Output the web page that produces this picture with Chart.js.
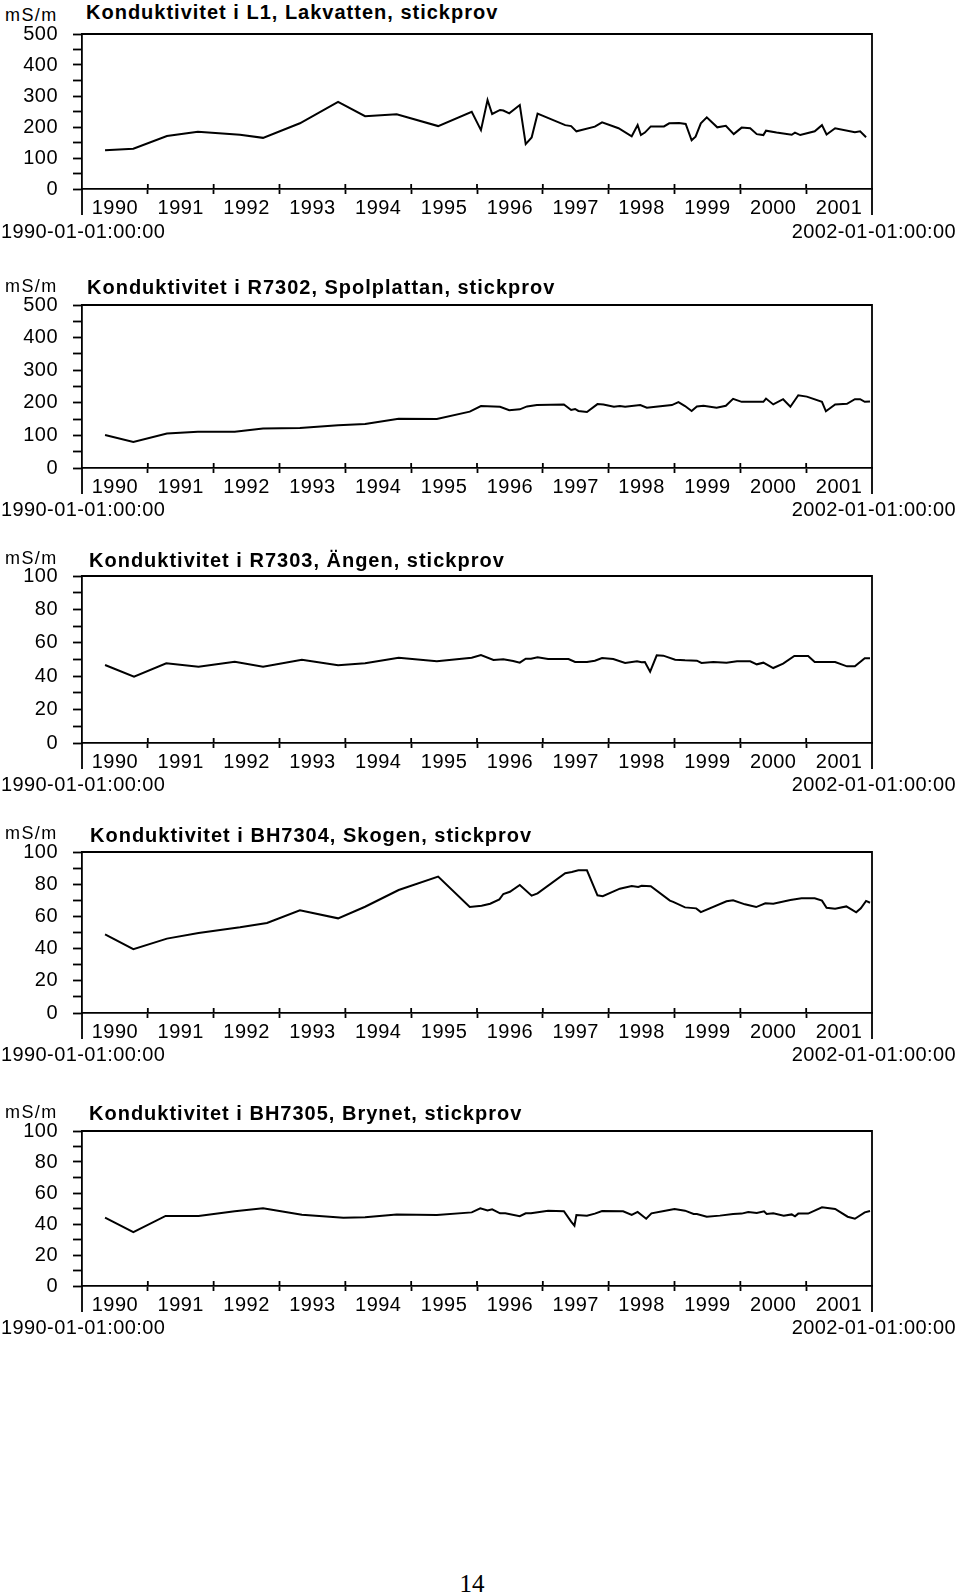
<!DOCTYPE html>
<html>
<head>
<meta charset="utf-8">
<script src="https://cdn.jsdelivr.net/npm/chart.js@4.4.1/dist/chart.umd.min.js"></script>
<style>
  html, body { margin: 0; padding: 0; background: #fff; overflow: hidden; }
  #page { position: relative; width: 960px; height: 1593px; font-family: "Liberation Sans", Arial, sans-serif; color: #000; }
  .unit { position: absolute; left: 5px; font-size: 18px; line-height: 18px; letter-spacing: 1.4px; }
  .title { position: absolute; font-size: 20px; line-height: 20px; font-weight: bold; letter-spacing: 1px; white-space: nowrap; }
  .date { position: absolute; font-size: 20px; line-height: 20px; letter-spacing: 0.4px; white-space: nowrap; }
  .start { left: 1px; }
  .end { right: 4px; }
  canvas { position: absolute; left: 0; }
  #pagenr { position: absolute; left: 0; width: 944px; top: 1571px; text-align: center; font-family: "Liberation Serif", serif; font-size: 25px; line-height: 25px; }
</style>
</head>
<body>
<div id="page">
  <div class="unit" style="top:6px">mS/m</div>
  <div class="title" style="left:86px;top:2px">Konduktivitet i L1, Lakvatten, stickprov</div>
  <canvas id="c1" width="960" height="209" style="top:20px"></canvas>
  <div class="date start" style="top:221px">1990-01-01:00:00</div>
  <div class="date end" style="top:221px">2002-01-01:00:00</div>

  <div class="unit" style="top:277px">mS/m</div>
  <div class="title" style="left:87px;top:277px">Konduktivitet i R7302, Spolplattan, stickprov</div>
  <canvas id="c2" width="960" height="217" style="top:291px"></canvas>
  <div class="date start" style="top:499px">1990-01-01:00:00</div>
  <div class="date end" style="top:499px">2002-01-01:00:00</div>

  <div class="unit" style="top:549px">mS/m</div>
  <div class="title" style="left:89px;top:550px">Konduktivitet i R7303, Ängen, stickprov</div>
  <canvas id="c3" width="960" height="221" style="top:562px"></canvas>
  <div class="date start" style="top:774px">1990-01-01:00:00</div>
  <div class="date end" style="top:774px">2002-01-01:00:00</div>

  <div class="unit" style="top:824px">mS/m</div>
  <div class="title" style="left:90px;top:825px">Konduktivitet i BH7304, Skogen, stickprov</div>
  <canvas id="c4" width="960" height="215" style="top:838px"></canvas>
  <div class="date start" style="top:1044px">1990-01-01:00:00</div>
  <div class="date end" style="top:1044px">2002-01-01:00:00</div>

  <div class="unit" style="top:1103px">mS/m</div>
  <div class="title" style="left:89px;top:1103px">Konduktivitet i BH7305, Brynet, stickprov</div>
  <canvas id="c5" width="960" height="209" style="top:1117px"></canvas>
  <div class="date start" style="top:1317px">1990-01-01:00:00</div>
  <div class="date end" style="top:1317px">2002-01-01:00:00</div>

  <div id="pagenr">14</div>
</div>
<script>
// År (etiketter mitt på varje år)
const years = ["1990", "1991", "1992", "1993", "1994", "1995", "1996", "1997", "1998", "1999", "2000", "2001"];
const yLabels500 = [0, 100, 200, 300, 400, 500];
const yLabels100 = [0, 20, 40, 60, 80, 100];

// L1, Lakvatten
const l1Dates = [1990.35, 1990.78, 1991.29, 1991.76, 1992.40, 1992.75, 1993.31, 1993.89, 1994.30, 1994.78,
  1995.41, 1995.92, 1996.06, 1996.16, 1996.23, 1996.35, 1996.40, 1996.49, 1996.65, 1996.74,
  1996.83, 1996.92, 1997.34, 1997.43, 1997.51, 1997.79, 1997.90, 1998.15, 1998.35, 1998.44,
  1998.49, 1998.55, 1998.64, 1998.84, 1998.92, 1999.07, 1999.17, 1999.26, 1999.32, 1999.40,
  1999.49, 1999.65, 1999.78, 1999.90, 2000.02, 2000.15, 2000.25, 2000.35, 2000.39, 2000.55,
  2000.78, 2000.83, 2000.91, 2001.13, 2001.24, 2001.31, 2001.44, 2001.74, 2001.82, 2001.91];
const l1Values = [125, 130, 171, 185, 175, 165, 212, 281, 235, 241,
  203, 249, 190, 287, 242, 255, 253, 244, 271, 145,
  166, 243, 206, 203, 186, 201, 215, 196, 170, 206,
  174, 182, 202, 202, 212, 213, 210, 157, 169, 212,
  231, 199, 204, 177, 198, 196, 177, 174, 188, 182,
  175, 182, 174, 186, 206, 176, 196, 183, 186, 167];

// R7302, Spolplattan
const r7302Dates = [1990.35, 1990.78, 1991.29, 1991.76, 1992.32, 1992.75, 1993.31, 1993.89, 1994.30, 1994.81,
  1995.39, 1995.89, 1996.06, 1996.35, 1996.49, 1996.65, 1996.76, 1996.91, 1997.32, 1997.43,
  1997.49, 1997.54, 1997.67, 1997.83, 1997.92, 1998.08, 1998.17, 1998.25, 1998.48, 1998.58,
  1998.68, 1998.96, 1999.06, 1999.16, 1999.26, 1999.34, 1999.44, 1999.64, 1999.78, 1999.89,
  2000.02, 2000.35, 2000.39, 2000.50, 2000.65, 2000.76, 2000.88, 2001.01, 2001.24, 2001.30,
  2001.44, 2001.62, 2001.74, 2001.82, 2001.89, 2001.97];
const r7302Values = [101, 80, 106, 111, 111, 121, 123, 131, 135, 151,
  150, 173, 190, 188, 177, 180, 189, 193, 195, 178,
  181, 175, 172, 196, 195, 188, 190, 188, 193, 185,
  187, 193, 202, 190, 175, 189, 191, 185, 191, 212,
  203, 203, 213, 195, 211, 188, 223, 219, 203, 174,
  195, 197, 211, 211, 203, 204];

// R7303, Ängen
const r7303Dates = [1990.35, 1990.79, 1991.28, 1991.77, 1992.32, 1992.75, 1993.34, 1993.89, 1994.30, 1994.81,
  1995.39, 1995.92, 1996.06, 1996.25, 1996.40, 1996.55, 1996.65, 1996.74, 1996.82, 1996.92,
  1997.08, 1997.39, 1997.49, 1997.67, 1997.79, 1997.90, 1998.07, 1998.25, 1998.43, 1998.50,
  1998.55, 1998.63, 1998.73, 1998.83, 1999.01, 1999.16, 1999.34, 1999.41, 1999.59, 1999.79,
  1999.95, 2000.15, 2000.25, 2000.35, 2000.50, 2000.65, 2000.82, 2001.03, 2001.13, 2001.44,
  2001.62, 2001.74, 2001.89, 2001.97];
const r7303Values = [46.7, 39.7, 47.7, 45.7, 48.7, 45.7, 49.9, 46.5, 47.7, 51,
  48.9, 51, 52.7, 49.7, 50.1, 49.1, 48.1, 50.5, 50.5, 51.3,
  50.3, 50.3, 48.5, 48.5, 49.3, 50.9, 50.3, 47.9, 48.9, 48.3,
  48.5, 42.7, 52.5, 52.3, 49.9, 49.5, 49.3, 47.9, 48.5, 48.1,
  48.9, 48.9, 47.1, 48.1, 44.9, 47.5, 52.1, 52.1, 48.5, 48.5,
  45.9, 45.9, 50.7, 50.7];

// BH7304, Skogen
const bh7304Dates = [1990.35, 1990.78, 1991.29, 1991.77, 1992.40, 1992.81, 1993.31, 1993.89, 1994.30, 1994.81,
  1995.41, 1995.89, 1996.07, 1996.20, 1996.34, 1996.40, 1996.50, 1996.65, 1996.83, 1996.92,
  1997.34, 1997.44, 1997.54, 1997.67, 1997.83, 1997.91, 1998.17, 1998.35, 1998.45, 1998.50,
  1998.64, 1998.93, 1998.98, 1999.16, 1999.33, 1999.40, 1999.79, 1999.89, 2000.07, 2000.24,
  2000.38, 2000.50, 2000.76, 2000.93, 2001.13, 2001.24, 2001.31, 2001.44, 2001.61, 2001.76,
  2001.83, 2001.91, 2001.97];
const bh7304Values = [48.9, 39.7, 46.2, 49.7, 53.2, 55.9, 63.8, 58.8, 66, 76.4,
  84.7, 65.8, 66.6, 67.9, 70.6, 73.9, 75.3, 79.5, 72.9, 74.3,
  86.8, 87.6, 88.6, 88.6, 73.1, 72.5, 77.2, 78.9, 78.3, 79,
  78.7, 69.8, 69, 65.6, 65, 62.7, 69.4, 70, 67.5, 65.8,
  68.1, 67.9, 70.2, 71.2, 71.2, 69.8, 65.4, 64.8, 66.2, 62.5,
  65, 69.6, 68.5];

// BH7305, Brynet
const bh7305Dates = [1990.35, 1990.78, 1991.27, 1991.77, 1992.32, 1992.75, 1993.34, 1993.97, 1994.30, 1994.78,
  1995.39, 1995.92, 1996.05, 1996.16, 1996.23, 1996.35, 1996.43, 1996.65, 1996.74, 1996.82,
  1997.08, 1997.32, 1997.43, 1997.48, 1997.51, 1997.67, 1997.79, 1997.90, 1998.22, 1998.35,
  1998.44, 1998.57, 1998.65, 1998.84, 1999.00, 1999.16, 1999.29, 1999.34, 1999.49, 1999.69,
  1999.89, 2000.02, 2000.12, 2000.25, 2000.36, 2000.40, 2000.50, 2000.66, 2000.78, 2000.83,
  2000.88, 2001.03, 2001.24, 2001.44, 2001.63, 2001.74, 2001.89, 2001.97];
const bh7305Values = [44.1, 34.8, 45.2, 45.2, 48.2, 50.1, 46, 44.1, 44.3, 46.2,
  45.8, 47.5, 50.1, 48.7, 49.5, 46.9, 46.9, 45, 46.9, 46.9,
  48.6, 48.2, 41.5, 38.9, 45.8, 45.4, 46.7, 48.4, 48.2, 45.8,
  47.8, 43.4, 46.9, 48.4, 49.7, 48.6, 46.5, 46.5, 44.7, 45.4,
  46.5, 46.7, 47.8, 47.1, 48.2, 46.5, 46.9, 45.4, 46.2, 45,
  46.7, 46.7, 50.8, 49.7, 44.7, 43.4, 47.5, 48.4];

Chart.defaults.font.family = '"Liberation Sans", Arial, sans-serif';
Chart.defaults.font.size = 20;
Chart.defaults.color = "#000";

const isYearMark = v => Number.isInteger(v) && v > 1990 && v < 2002;

// ram runt diagrammet + streck inåt på x-axeln
const frame = {
  id: "frame",
  beforeDraw(chart) {
    chart.ctx.letterSpacing = "0.5px";
  },
  afterDraw(chart) {
    const ctx = chart.ctx;
    const a = chart.chartArea;
    const x = chart.scales.x;
    ctx.save();
    ctx.strokeStyle = "#000";
    ctx.lineWidth = 1.8;
    ctx.beginPath();
    ctx.moveTo(a.left, a.top);
    ctx.lineTo(a.right, a.top);
    ctx.lineTo(a.right, a.bottom + 26);
    ctx.moveTo(a.left, a.bottom);
    ctx.lineTo(a.left, a.bottom + 26);
    x.ticks.forEach(t => {
      if (isYearMark(t.value)) {
        let px = x.getPixelForValue(t.value);
        ctx.moveTo(px, a.bottom);
        ctx.lineTo(px, a.bottom - 5);
      }
    });
    ctx.stroke();
    ctx.restore();
  }
};

function ritaDiagram(id, dates, values, yMax, yStep, yLabels) {
  new Chart(document.getElementById(id), {
    type: "line",
    data: {
      datasets: [{
        data: dates.map((d, i) => ({ x: d, y: values[i] })),
        borderColor: "#000",
        borderWidth: 2,
        pointRadius: 0,
        tension: 0,
        fill: false
      }]
    },
    options: {
      responsive: false,
      animation: false,
      events: [],
      layout: { padding: { top: 14, right: 88, bottom: 0, left: 0 } },
      plugins: { legend: { display: false }, tooltip: { enabled: false } },
      scales: {
        x: {
          type: "linear",
          min: 1990,
          max: 2002,
          afterBuildTicks(scale) {
            let t = [];
            for (let i = 0; i <= years.length; i++) {
              t.push({ value: 1990 + i });
              if (i < years.length) t.push({ value: 1990 + i + 0.5 });
            }
            scale.ticks = t;
          },
          afterFit(scale) {
            scale.height = 40;
            scale.paddingLeft = 0;
            scale.paddingRight = 0;
          },
          ticks: {
            autoSkip: false,
            maxRotation: 0,
            padding: 2,
            callback(value) {
              let y = Math.floor(value);
              return value - y === 0.5 ? years[y - 1990] : "";
            }
          },
          grid: {
            drawOnChartArea: false,
            tickLength: 5,
            tickWidth: 1.8,
            tickColor: c => (c.tick && isYearMark(c.tick.value)) ? "#000" : "rgba(0,0,0,0)"
          },
          border: { color: "#000", width: 1.8 }
        },
        y: {
          min: 0,
          max: yMax,
          afterFit(scale) {
            scale.width = 82;
            scale.paddingTop = 0;
            scale.paddingBottom = 0;
          },
          ticks: {
            stepSize: yStep,
            autoSkip: false,
            padding: 15,
            callback: v => yLabels.includes(v) ? String(v) : ""
          },
          grid: { drawOnChartArea: false, tickLength: 9, tickWidth: 1.8, tickColor: "#000" },
          border: { color: "#000", width: 1.8 }
        }
      }
    },
    plugins: [frame]
  });
}

ritaDiagram("c1", l1Dates, l1Values, 500, 50, yLabels500);
ritaDiagram("c2", r7302Dates, r7302Values, 500, 50, yLabels500);
ritaDiagram("c3", r7303Dates, r7303Values, 100, 10, yLabels100);
ritaDiagram("c4", bh7304Dates, bh7304Values, 100, 10, yLabels100);
ritaDiagram("c5", bh7305Dates, bh7305Values, 100, 10, yLabels100);
</script>
</body>
</html>
